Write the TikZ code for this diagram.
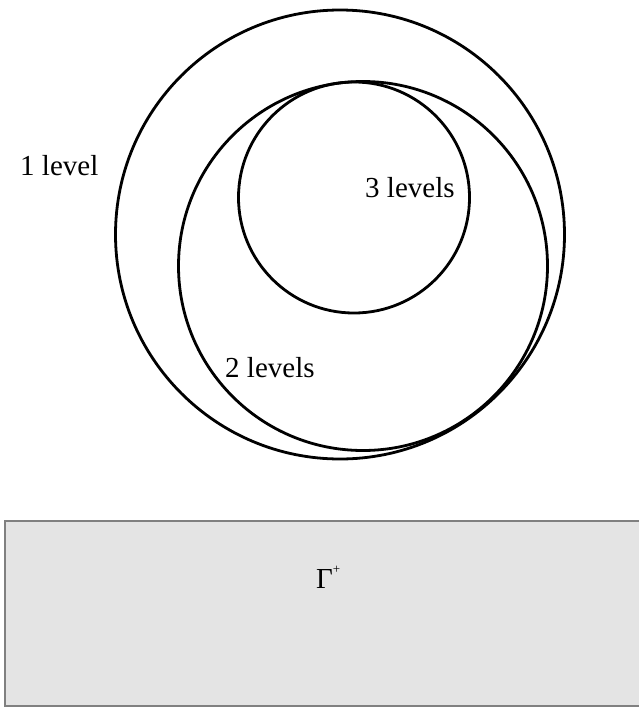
\documentclass[tikz,border=0pt]{standalone}
\usepackage{fontspec}
\setmainfont{Liberation Serif}
\begin{document}
\begin{tikzpicture}[x=1pt,y=-1pt,
  ring/.style={draw=black,line width=2.8pt},
  lbl/.style={anchor=base west,inner sep=0pt,font=\fontsize{29}{32}\selectfont}]
\useasboundingbox (0,0) rectangle (638,707);
% grey box
\path[fill={rgb,255:red,228;green,228;blue,228},draw={rgb,255:red,128;green,128;blue,128},line width=1.5pt]
  (5,521) rectangle (645,706);
% circles
\draw[ring] (340,234.5) circle[radius=224.5];
\draw[ring] (363,266) circle[radius=184.5];
\draw[ring] (354,197.5) circle[radius=115.5];
% labels
\node[lbl] (l1) at (20,175) {1 level};
\node[lbl] (l3) at (365,197) {3 levels};
\node[lbl] (l2) at (225,377) {2 levels};
\node[lbl] (g) at (316,588) {Γ\raisebox{0.5em}{\fontsize{13}{13}\selectfont +}};
\end{tikzpicture}
\end{document}
